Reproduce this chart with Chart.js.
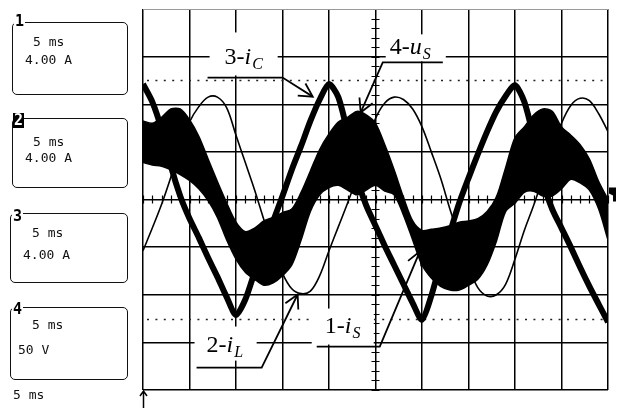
<!DOCTYPE html>
<html>
<head>
<meta charset="utf-8">
<script src="https://cdn.jsdelivr.net/npm/chart.js@4.4.1/dist/chart.umd.min.js"></script>
<style>
  html, body { margin: 0; padding: 0; background: #fff; }
  #wrap { position: relative; width: 619px; height: 410px; overflow: hidden; }
  #scope { position: absolute; left: 0; top: 0; }
  .chbox { position: absolute; border: 1.5px solid #111; border-radius: 5px; box-sizing: border-box; }
  .chno { position: absolute; font: bold 15px "DejaVu Sans Mono", monospace; line-height: 15px; background: #fff; color: #000; padding: 0 1px; }
  .chno.inv { background: #000; color: #fff; }
  .txt { position: absolute; font: 13px "DejaVu Sans Mono", monospace; line-height: 13px; white-space: pre; color: #111; }
</style>
</head>
<body>
<div id="wrap">
  <canvas id="scope" width="619" height="410"></canvas>

  <div class="chbox" style="left:12px;top:22px;width:116px;height:73px"></div>
  <div class="chno" style="left:14px;top:14px">1</div>
  <div class="txt" style="left:33px;top:35px">5 ms</div>
  <div class="txt" style="left:25px;top:53px">4.00 A</div>

  <div class="chbox" style="left:12px;top:118px;width:116px;height:70px"></div>
  <div class="chno inv" style="left:13px;top:113px">2</div>
  <div class="txt" style="left:33px;top:135px">5 ms</div>
  <div class="txt" style="left:25px;top:151px">4.00 A</div>

  <div class="chbox" style="left:10px;top:213px;width:118px;height:70px"></div>
  <div class="chno" style="left:12px;top:209px">3</div>
  <div class="txt" style="left:32px;top:226px">5 ms</div>
  <div class="txt" style="left:23px;top:248px">4.00 A</div>

  <div class="chbox" style="left:10px;top:307px;width:118px;height:73px"></div>
  <div class="chno" style="left:12px;top:302px">4</div>
  <div class="txt" style="left:32px;top:318px">5 ms</div>
  <div class="txt" style="left:18px;top:343px">50 V</div>

  <div class="txt" style="left:13px;top:388px">5 ms</div>
</div>

<script>
//#region data (5 ms/div, 4 A/div)

const timeMs = [0,1,2,3,4,5,6,7,8,9,10,11,12,13,14,15,16,17,18,19,20,21,22,23,24,25,
  26,27,28,29,30,31,32,33,34,35,36,37,38,39,40,41,42,43,44,45,46,47,48,49,50];

// thin clean trace
const iL = [-4.3,-2.4,-0.4,1.9,4.4,6.5,7.8,8.6,8.6,7.7,5.4,3.1,0.8,-1.7,-4.1,-6.2,-7.5,-7.9,-7.7,-6.4,
  -4.3,-2.3,-0.3,1.9,4.6,6.8,8.1,8.6,8.4,7.6,6.1,4.0,1.8,-0.8,-3.2,-5.6,-7.4,-8.1,-8.0,-7.1,
  -5.0,-2.6,-0.5,1.8,4.1,6.4,7.9,8.5,8.3,7.2,5.7];

// thick triangular trace
const iC = [9.7,8.2,5.9,2.8,0.3,-1.6,-3.2,-4.9,-6.5,-8.2,-9.7,-8.4,-6.1,-3.9,-1.8,0.3,2.5,4.5,6.6,8.4,
  9.7,8.6,5.6,1.8,-0.5,-2.2,-3.9,-5.5,-7.1,-8.7,-10.1,-8.1,-5.3,-2.8,-0.3,1.8,3.8,5.7,7.4,8.7,
  9.6,8.2,5.2,1.5,-0.8,-2.4,-4.0,-5.7,-7.3,-8.8,-10.3];

// noisy band (iS and uS overlapping): upper and lower envelope
const bandHi = [6.6,6.4,6.9,7.6,7.6,6.7,5.3,3.4,1.5,-0.3,-1.9,-2.7,-2.4,-1.8,-1.5,-1.1,-0.8,0.6,2.4,4.2,
  5.5,6.5,6.9,7.4,7.1,6.4,4.6,2.5,0.2,-1.8,-2.6,-2.5,-2.4,-2.2,-1.9,-1.8,-1.6,-1.0,0.2,2.7,
  5.2,6.1,7.1,7.6,7.4,6.1,5.4,4.6,3.4,1.5,0.0];
const bandLo = [3.1,2.9,2.8,2.5,2.1,1.6,0.9,-0.1,-1.5,-3.4,-5.0,-6.1,-6.7,-7.2,-7.0,-6.4,-5.5,-3.4,-1.0,0.4,
  1.0,1.2,0.8,0.4,0.8,1.2,0.7,0.4,-1.3,-3.4,-5.5,-6.6,-7.3,-7.6,-7.6,-7.2,-6.7,-5.5,-3.5,-1.0,
  -0.3,0.6,0.7,0.3,0.3,0.9,1.7,1.4,0.8,-0.8,-3.4];

const AMPS_PER_DIV = 4;
const DIVS_X = 10, DIVS_Y = 8, MS_PER_DIV = 5;

// trace labels: text anchor, leader path (last point gets the arrow), white box behind text
const callouts = [
  { num: "3-", sym: "i", sub: "C", at: [8.77, 11.36], path: [[6.94, 10.24], [15.01, 10.24], [18.25, 8.64]], box: [7.16, 14.03, 14.48, 10.42] },
  { num: "4-", sym: "u", sub: "S", at: [26.53, 12.2], path: [[32.24, 11.51], [25.78, 11.51], [23.41, 7.31]], box: [26.10, 13.87, 32.56, 11.6] },
  { num: "2-", sym: "i", sub: "L", at: [6.84, -12.77], path: [[5.76, -14.12], [12.76, -14.12], [16.63, -7.98]], box: [5.54, -10.67, 12.22, -13.53] },
  { num: "1-", sym: "i", sub: "S", at: [19.54, -11.18], path: [[18.68, -12.35], [25.46, -12.35], [29.76, -4.37]], box: [18.14, -9.16, 24.81, -12.18] }
];

//#endregion

const toXY = arr => arr.map((v, i) => ({ x: timeMs[i], y: v }));

//#region scope decorations

function arrowHead(ctx, x0, y0, x1, y1) {
  const a = Math.atan2(y0 - y1, x0 - x1);
  const len = 15, spread = 0.5;
  ctx.beginPath();
  ctx.moveTo(x1 + len * Math.cos(a + spread), y1 + len * Math.sin(a + spread));
  ctx.lineTo(x1, y1);
  ctx.lineTo(x1 + len * Math.cos(a - spread), y1 + len * Math.sin(a - spread));
  ctx.stroke();
}

const scopeGrid = {
  id: "scopeGrid",
  beforeDatasetsDraw(chart) {
    const { ctx, chartArea: a, scales: { x, y } } = chart;
    ctx.save();
    // dotted reference lines
    ctx.strokeStyle = "#222";
    ctx.lineWidth = 1.6;
    ctx.setLineDash([2, 6.4]);
    [10, -10].forEach(v => {
      const py = Math.round(y.getPixelForValue(v)) + 0.5;
      ctx.beginPath();
      ctx.moveTo(a.left + 4, py);
      ctx.lineTo(a.right, py);
      ctx.stroke();
    });
    ctx.setLineDash([]);
    // minor ticks on the centre cross
    ctx.lineWidth = 1.2;
    ctx.strokeStyle = "#000";
    const cx = x.getPixelForValue(25), cy = y.getPixelForValue(0);
    ctx.beginPath();
    for (let t = 0; t <= DIVS_X * MS_PER_DIV; t += 1) {
      const px = Math.round(x.getPixelForValue(t)) + 0.5;
      ctx.moveTo(px, cy - 4);
      ctx.lineTo(px, cy + 4);
    }
    for (let v = -16; v <= 16; v += 0.8) {
      const py = Math.round(y.getPixelForValue(v)) + 0.5;
      ctx.moveTo(cx - 4, py);
      ctx.lineTo(cx + 4, py);
    }
    ctx.stroke();
    ctx.restore();
  },
  afterDatasetsDraw(chart) {
    const { ctx, chartArea: a, scales: { x, y } } = chart;
    ctx.save();
    callouts.forEach(c => {
      const bx0 = x.getPixelForValue(c.box[0]), by0 = y.getPixelForValue(c.box[1]);
      const bx1 = x.getPixelForValue(c.box[2]), by1 = y.getPixelForValue(c.box[3]);
      ctx.fillStyle = "#fff";
      ctx.fillRect(bx0, by0, bx1 - bx0, by1 - by0);

      let tx = x.getPixelForValue(c.at[0]);
      const ty = y.getPixelForValue(c.at[1]);
      ctx.fillStyle = "#000";
      ctx.textBaseline = "alphabetic";
      ctx.font = '24px "Liberation Serif", serif';
      ctx.fillText(c.num, tx, ty);
      tx += ctx.measureText(c.num).width;
      ctx.font = 'italic 24px "Liberation Serif", serif';
      ctx.fillText(c.sym, tx, ty);
      tx += ctx.measureText(c.sym).width + 1;
      ctx.font = 'italic 16px "Liberation Serif", serif';
      ctx.fillText(c.sub, tx, ty + 5);

      ctx.strokeStyle = "#000";
      ctx.lineWidth = 1.8;
      ctx.beginPath();
      c.path.forEach((p, i) => {
        const px = x.getPixelForValue(p[0]), py = y.getPixelForValue(p[1]);
        i ? ctx.lineTo(px, py) : ctx.moveTo(px, py);
      });
      ctx.stroke();
      const n = c.path.length;
      arrowHead(ctx,
        x.getPixelForValue(c.path[n - 2][0]), y.getPixelForValue(c.path[n - 2][1]),
        x.getPixelForValue(c.path[n - 1][0]), y.getPixelForValue(c.path[n - 1][1]));
    });

    // trigger position marker under the screen
    ctx.lineWidth = 1.5;
    ctx.beginPath();
    ctx.moveTo(a.left + 0.5, a.bottom + 1);
    ctx.lineTo(a.left + 0.5, a.bottom + 18);
    ctx.moveTo(a.left - 3, a.bottom + 6);
    ctx.lineTo(a.left + 0.5, a.bottom + 1);
    ctx.lineTo(a.left + 4, a.bottom + 6);
    ctx.stroke();

    // ground level marker on the right edge
    const gy = y.getPixelForValue(0);
    ctx.fillStyle = "#000";
    ctx.beginPath();
    ctx.moveTo(a.right + 1, gy - 12);
    ctx.lineTo(a.right + 8, gy - 12);
    ctx.lineTo(a.right + 8, gy + 2);
    ctx.lineTo(a.right + 5, gy + 2);
    ctx.lineTo(a.right + 5, gy - 4);
    ctx.lineTo(a.right + 1, gy - 6);
    ctx.closePath();
    ctx.fill();
    ctx.restore();
  }
};

//#endregion

//#region chart

const ctxScope = document.getElementById("scope").getContext("2d");

new Chart(ctxScope, {
  type: "line",
  data: {
    datasets: [
      {
        label: "iL",
        data: toXY(iL),
        borderColor: "#000",
        borderWidth: 1.6,
        pointRadius: 0,
        tension: 0.35,
        fill: false
      },
      {
        label: "iC",
        data: toXY(iC),
        borderColor: "#000",
        borderWidth: 6,
        pointRadius: 0,
        tension: 0.25,
        fill: false
      },
      {
        label: "band high",
        data: toXY(bandHi),
        borderColor: "#000",
        borderWidth: 1.5,
        backgroundColor: "#000",
        pointRadius: 0,
        tension: 0.3,
        fill: "+1"
      },
      {
        label: "band low",
        data: toXY(bandLo),
        borderColor: "#000",
        borderWidth: 1.5,
        pointRadius: 0,
        tension: 0.3,
        fill: false
      }
    ]
  },
  options: {
    responsive: false,
    animation: false,
    devicePixelRatio: 1,
    layout: { padding: { left: 143, right: 11, top: 9, bottom: 20 } },
    scales: {
      x: {
        type: "linear",
        min: 0,
        max: DIVS_X * MS_PER_DIV,
        ticks: { display: false, stepSize: MS_PER_DIV },
        grid: { color: "#000", lineWidth: 1.5, drawTicks: false },
        border: { display: false }
      },
      y: {
        min: -DIVS_Y / 2 * AMPS_PER_DIV,
        max: DIVS_Y / 2 * AMPS_PER_DIV,
        ticks: { display: false, stepSize: AMPS_PER_DIV },
        grid: {
          color: c => (c.tick && c.tick.value === DIVS_Y / 2 * AMPS_PER_DIV ? "#999" : "#000"),
          lineWidth: c => (c.tick && c.tick.value === DIVS_Y / 2 * AMPS_PER_DIV ? 1 : 1.5),
          drawTicks: false
        },
        border: { display: false }
      }
    },
    plugins: {
      legend: { display: false },
      tooltip: { enabled: false }
    }
  },
  plugins: [scopeGrid]
});

//#endregion
</script>
</body>
</html>
